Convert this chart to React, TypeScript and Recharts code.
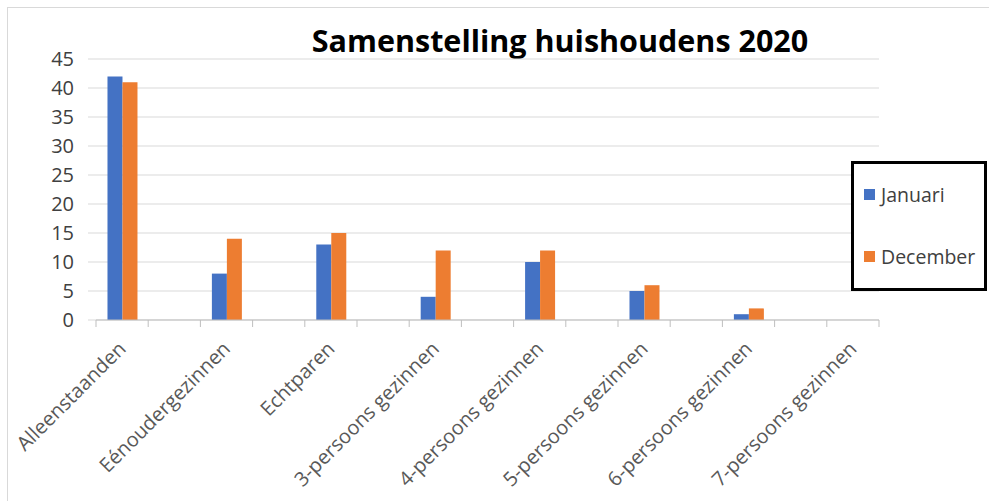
import React from "react";
import {
  BarChart,
  Bar,
  XAxis,
  YAxis,
  CartesianGrid,
  Legend,
} from "recharts";

// Excel source had empty rows between the groups, so every other slot is blank
const categories = [
  "Alleenstaanden", "", "Eénoudergezinnen", "", "Echtparen", "",
  "3-persoons gezinnen", "", "4-persoons gezinnen", "", "5-persoons gezinnen", "",
  "6-persoons gezinnen", "", "7-persoons gezinnen",
];
const januari = [42, null, 8, null, 13, null, 4, null, 10, null, 5, null, 1, null, 0];
const december = [41, null, 14, null, 15, null, 12, null, 12, null, 6, null, 2, null, 0];
const seriesNames = ["Januari", "December"];
const yTicks = [0, 5, 10, 15, 20, 25, 30, 35, 40, 45];

const data = categories.map((name, i) => ({
  name,
  Januari: januari[i],
  December: december[i],
}));

const FONT = "'Open Sans', sans-serif";
const AXIS_GREY = "#bfbfbf";

// Excel puts the tick marks between categories, so draw them at the band edges
const CategoryTick = ({ x, y, payload, width, visibleTicksCount, index }: any) => {
  const half = width / visibleTicksCount / 2;
  return (
    <g>
      <line x1={x - half} x2={x - half} y1={y} y2={y + 7} stroke={AXIS_GREY} />
      {index === visibleTicksCount - 1 && (
        <line x1={x + half} x2={x + half} y1={y} y2={y + 7} stroke={AXIS_GREY} />
      )}
      {payload.value && (
        <g transform={`translate(${x + 5},${y + 30})`}>
          <text
            textAnchor="end"
            transform="rotate(-45)"
            fontFamily={FONT}
            fontSize={20}
            fill="#595959"
          >
            {payload.value}
          </text>
        </g>
      )}
    </g>
  );
};

const LegendBox = ({ payload }: any) => {
  const items = [...(payload || [])].sort(
    (a: any, b: any) => seriesNames.indexOf(a.value) - seriesNames.indexOf(b.value)
  );
  return (
    <div
      style={{
        position: "relative",
        boxSizing: "border-box",
        width: 136,
        height: 130,
        border: "3px solid #000",
        background: "#fff",
        fontFamily: FONT,
        fontSize: 19.5,
        color: "#404040",
      }}
    >
      {items.map((entry: any, i: number) => (
        <div
          key={entry.value}
          style={{
            position: "absolute",
            left: 10,
            top: 16 + i * 62,
            height: 28,
            display: "flex",
            alignItems: "center",
            whiteSpace: "nowrap",
          }}
        >
          <span
            style={{
              display: "inline-block",
              width: 11,
              height: 11,
              background: entry.color,
              marginRight: 6,
            }}
          />
          {entry.value}
        </div>
      ))}
    </div>
  );
};

export default function App() {
  return (
    <div
      style={{
        position: "absolute",
        left: 0,
        top: 0,
        width: 989,
        height: 501,
        background: "#fff",
        overflow: "hidden",
      }}
    >
      <div
        style={{
          position: "absolute",
          left: 7,
          top: 7,
          right: -2,
          bottom: -2,
          border: "1px solid #d9d9d9",
        }}
      />
      <div
        style={{
          position: "absolute",
          left: 305,
          top: 25,
          width: 510,
          textAlign: "center",
          fontFamily: FONT,
          fontWeight: 700,
          fontSize: 30.5,
          lineHeight: "30px",
          color: "#000",
        }}
      >
        Samenstelling huishoudens 2020
      </div>
      <BarChart
        width={989}
        height={501}
        data={data}
        margin={{ top: 59, right: 110, left: 0, bottom: 0 }}
        barCategoryGap="22%"
        barGap={0}
      >
        <CartesianGrid vertical={false} stroke="#d9d9d9" />
        <XAxis
          dataKey="name"
          interval={0}
          height={181}
          axisLine={{ stroke: AXIS_GREY }}
          tickLine={false}
          tickSize={0}
          tickMargin={0}
          tick={<CategoryTick />}
        />
        <YAxis
          width={96}
          domain={[0, 45]}
          ticks={yTicks}
          axisLine={false}
          tickLine={{ stroke: "#d9d9d9" }}
          tickSize={8}
          tickMargin={14}
          tick={{ fill: "#404040", fontSize: 20, fontFamily: FONT }}
        />
        <Legend
          layout="horizontal"
          verticalAlign="middle"
          align="center"
          content={<LegendBox />}
          wrapperStyle={{ left: 851, top: 161, width: 136, height: 130 }}
        />
        <Bar dataKey="Januari" fill="#4472C4" isAnimationActive={false} />
        <Bar dataKey="December" fill="#ED7D31" isAnimationActive={false} />
      </BarChart>
    </div>
  );
}
